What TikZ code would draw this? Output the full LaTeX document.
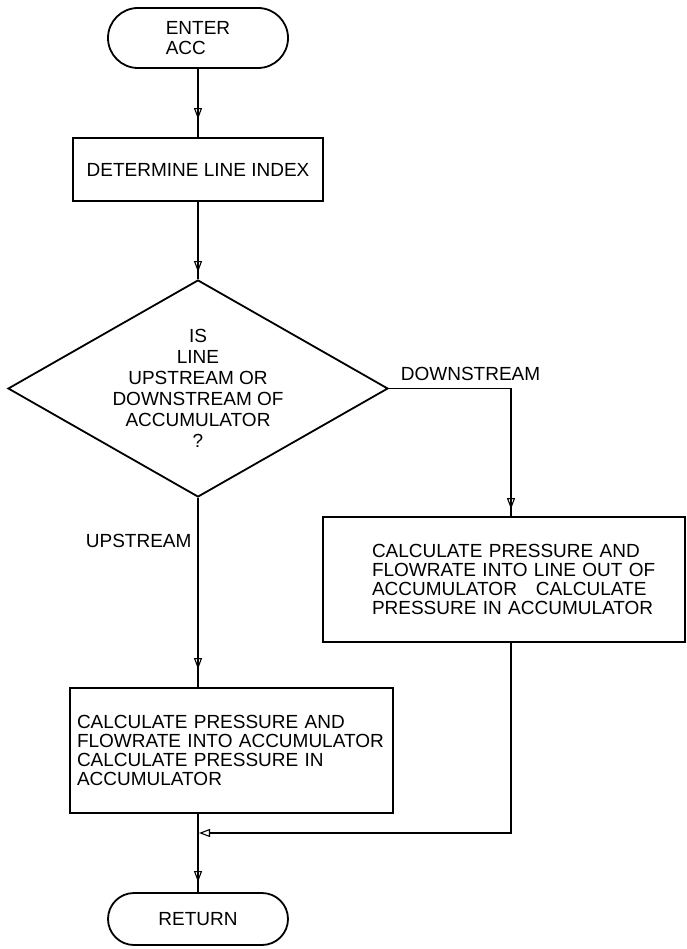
\documentclass[tikz,border=0pt]{standalone}
\usepackage{fontspec}
\setmainfont{Liberation Sans}
\usetikzlibrary{arrows.meta,decorations.markings,shapes.geometric}

\tikzset{opentip/.tip={Triangle[open,length=11pt,width=8pt,line width=1.1pt]}}

\begin{document}
\begin{tikzpicture}[x=1pt,y=-1pt,line width=1.8pt,
  txt/.style={font=\fontsize{19}{19}\selectfont},
  term/.style={draw,txt,rectangle,inner sep=0pt,minimum width=180pt,align=left},
  proc/.style={draw,txt,rectangle,inner sep=0pt},
  decision/.style={draw,diamond,aspect=1.75,inner sep=0pt,
                   minimum width=380pt,minimum height=217pt},
  branch/.style={txt,inner sep=0pt},
  tipat/.style={postaction={decorate},
    decoration={markings,mark=at position #1 with {\arrow{opentip}}}}
]
% page
\fill[white] (0,0) rectangle (687,949);
\useasboundingbox (0,0) rectangle (687,949);

% terminals
\node[term,minimum height=60pt,rounded corners=30pt,
      font=\fontsize{19}{20}\selectfont] (enter) at (198,38) {ENTER\\ACC};
\node[term,minimum height=52pt,rounded corners=26pt,align=center] (ret) at (198,919) {RETURN};

% process boxes
\node[proc,minimum width=250pt,minimum height=63pt] (index) at (198,169.5)
  {DETERMINE LINE INDEX};

% lines are kept whole; the text block starts well inside the left edge
\node[proc,minimum height=125pt,text width=264pt,inner xsep=49pt,align=left]
  (outbox) at (504,579.5)
  {\mbox{CALCULATE PRESSURE AND}\\\mbox{FLOWRATE INTO LINE OUT OF}\\
   \mbox{ACCUMULATOR\ \ \ CALCULATE}\\\mbox{PRESSURE IN ACCUMULATOR}};

\node[proc,minimum height=125pt,text width=309pt,inner xsep=7pt,align=left]
  (inbox) at (231.5,750.5)
  {\mbox{CALCULATE PRESSURE AND}\\\mbox{FLOWRATE INTO ACCUMULATOR}\\
   \mbox{CALCULATE PRESSURE IN}\\\mbox{ACCUMULATOR}};

% decision
\node[decision] (test) at (198,388.5) {};
\node[txt,font=\fontsize{19}{21}\selectfont,align=center,inner sep=0pt] (testtxt) at (198,388)
  {IS\\LINE\\UPSTREAM OR\\DOWNSTREAM OF\\ACCUMULATOR\\?};

% branch labels
\node[branch,anchor=base west] (down) at (400,380) {DOWNSTREAM};
\node[branch,anchor=base west] (up) at (85,547) {UPSTREAM};

% junction above the return terminal
\coordinate (join) at (198,833);

% connectors
\draw[tipat=-18pt] (enter.south) -- (index.north);
\draw[tipat=-7pt] (index.south) -- (test.north);
\draw[tipat=-7pt] (test.east) -| ([xshift=7pt]outbox.north);
\draw[tipat=-18pt] (test.south) -- (test.south |- inbox.north);
\draw[-{opentip},shorten >=1pt] ([xshift=7pt]outbox.south) |- (join);
\draw[tipat=-10pt] (index.south |- inbox.south) -- (ret.north);
\end{tikzpicture}
\end{document}
